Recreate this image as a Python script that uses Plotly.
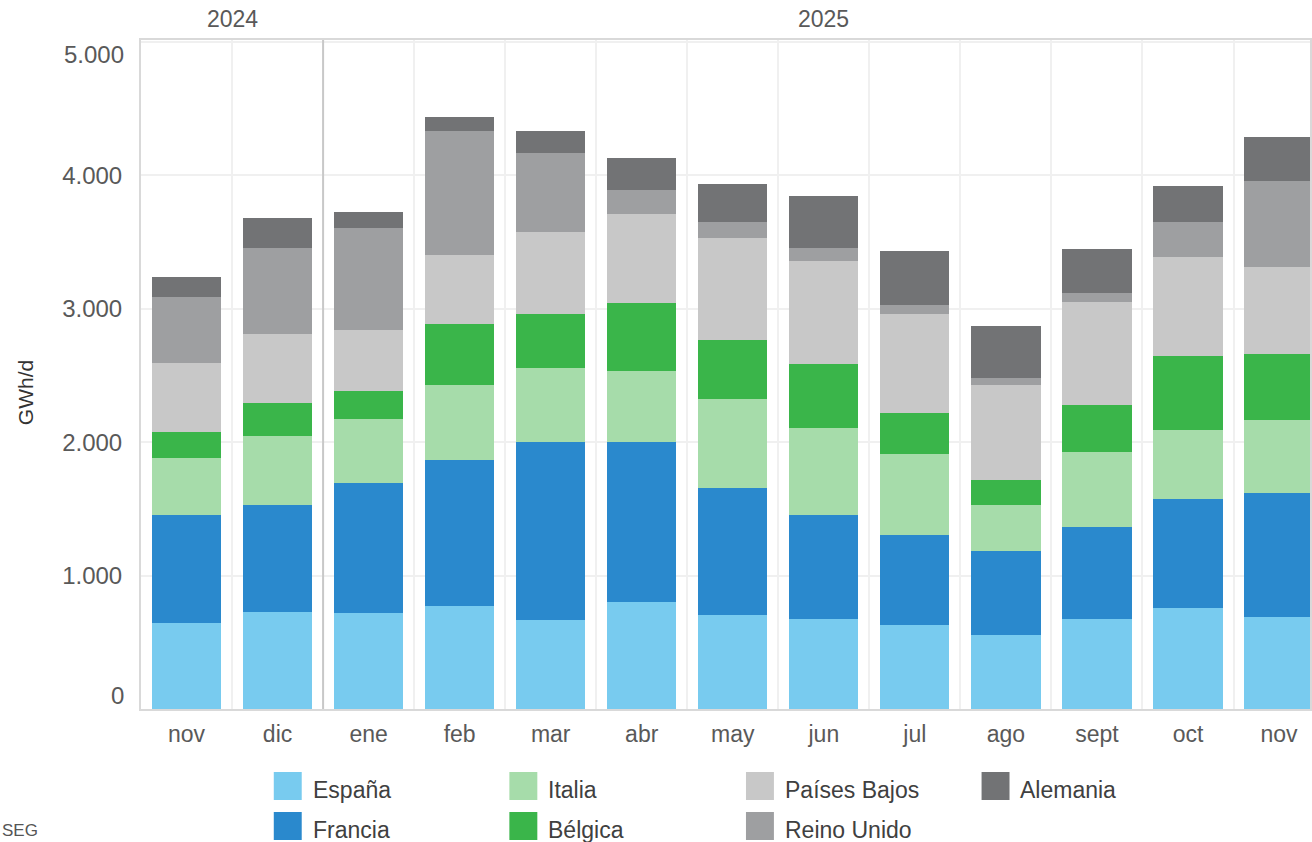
import plotly.graph_objects as go

# Data (GWh/d)
months = ["nov", "dic", "ene", "feb", "mar", "abr", "may", "jun", "jul", "ago", "sept", "oct", "nov"]
years = ["2024", "2025"]
y_ticks = [0, 1000, 2000, 3000, 4000, 5000]

espana = [645, 727, 720, 772, 667, 802, 705, 675, 630, 555, 675, 757, 690]
francia = [809, 802, 974, 1095, 1334, 1199, 952, 779, 674, 629, 689, 817, 929]
italia = [428, 517, 480, 562, 555, 533, 667, 652, 608, 345, 563, 517, 547]
belgica = [194, 248, 210, 457, 405, 509, 442, 480, 307, 188, 352, 555, 495]
paises_bajos = [518, 517, 457, 517, 615, 668, 765, 772, 742, 712, 772, 742, 652]
reino_unido = [494, 645, 765, 930, 592, 180, 120, 98, 67, 52, 67, 263, 645]
alemania = [150, 225, 120, 105, 165, 239, 285, 390, 405, 390, 330, 270, 330]

series = [
    ("España", espana, "#78CBEF"),
    ("Francia", francia, "#2A89CD"),
    ("Italia", italia, "#A6DCAA"),
    ("Bélgica", belgica, "#3AB54A"),
    ("Países Bajos", paises_bajos, "#C8C8C8"),
    ("Reino Unido", reino_unido, "#9E9FA1"),
    ("Alemania", alemania, "#727375"),
]

W, H = 1312, 842
L, T, B = 141, 40, 709  # plot area in pixels
FONT = "Liberation Sans, Arial, sans-serif"
NARROW = "Liberation Sans Narrow, Liberation Sans, Arial, sans-serif"


def px_x(p):
    return (p - L) / (W - L)


def px_y(p):
    return (B - p) / (B - T)


x = list(range(len(months)))

fig = go.Figure()
for name, vals, color in series:
    fig.add_trace(go.Bar(
        x=x, y=vals, name=name, marker_color=color,
        marker_line_width=0, width=0.76, showlegend=False,
    ))

fig.update_layout(
    width=W, height=H,
    barmode="stack",
    separators=",.",
    paper_bgcolor="white",
    plot_bgcolor="white",
    margin=dict(l=L, r=0, t=T, b=H - B),
    font=dict(family=FONT, color="#595959"),
    xaxis=dict(
        range=[-0.5, 12.34],
        tickvals=x, ticktext=months,
        tickfont=dict(size=23, color="#595959"),
        showgrid=False, zeroline=False,
        showline=True, linecolor="#D9D9D9", linewidth=2, mirror=True,
        ticks="", ticklabelstandoff=3,
        minor=dict(showgrid=True, tick0=0.5, dtick=1, gridcolor="#F0F0F0", gridwidth=2),
    ),
    yaxis=dict(
        range=[0, 5015],
        tickvals=y_ticks,
        # end labels are drawn as annotations, nudged inside the plot
        ticktext=["" if v in (y_ticks[0], y_ticks[-1]) else f"{v:,}".replace(",", ".") for v in y_ticks],
        tickfont=dict(size=24, color="#595959"),
        showgrid=True, gridcolor="#F0F0F0", gridwidth=2,
        zeroline=False,
        showline=True, linecolor="#D9D9D9", linewidth=2, mirror=True,
        ticks="", ticklabelstandoff=12,
    ),
)

for v, shift in [(y_ticks[0], 14), (y_ticks[-1], -12)]:
    fig.add_annotation(text=f"{v:,}".replace(",", "."), xref="paper", yref="y", x=px_x(126), y=v,
                       yshift=shift, showarrow=False, xanchor="right", yanchor="middle",
                       font=dict(size=24, color="#595959", family=FONT))

# year separator
fig.add_shape(type="line", xref="x", yref="paper", x0=1.5, x1=1.5, y0=0, y1=1,
              line=dict(color="#C8C8C8", width=2), layer="above")

# year labels on top
for yr, xc in zip(years, [0.5, 7]):
    fig.add_annotation(text=yr, xref="x", yref="paper", x=xc, y=px_y(19),
                       showarrow=False, yanchor="middle",
                       font=dict(size=23, color="#595959", family=FONT))

# y axis title
fig.add_annotation(text="GWh/d", xref="paper", yref="paper", x=px_x(25), y=px_y(393),
                   textangle=-90, showarrow=False, xanchor="center", yanchor="middle",
                   font=dict(size=21, color="#333333", family=NARROW))

# source (only the visible part of the original)
fig.add_annotation(text="SEG", xref="paper", yref="paper", x=px_x(0), y=px_y(830),
                   showarrow=False, xanchor="left", yanchor="middle",
                   font=dict(size=17, color="#555555", family=NARROW))

# custom legend, 4 columns x 2 rows, filled column by column
col_left = [274, 510, 747, 983]
row_top = [772, 812]
for i, (name, vals, color) in enumerate(series):
    cx = col_left[i // 2]
    ry = row_top[i % 2]
    fig.add_shape(type="rect", xref="paper", yref="paper",
                  x0=px_x(cx), x1=px_x(cx + 28), y0=px_y(ry + 28), y1=px_y(ry),
                  fillcolor=color, line_width=0)
    fig.add_annotation(text=name, xref="paper", yref="paper", x=px_x(cx + 37), y=px_y(ry + 18),
                       showarrow=False, xanchor="left", yanchor="middle",
                       font=dict(size=23, color="#404040", family=FONT))

fig.write_html("out.html", config={"displayModeBar": False},
               post_script="document.body.style.margin='0px';")
